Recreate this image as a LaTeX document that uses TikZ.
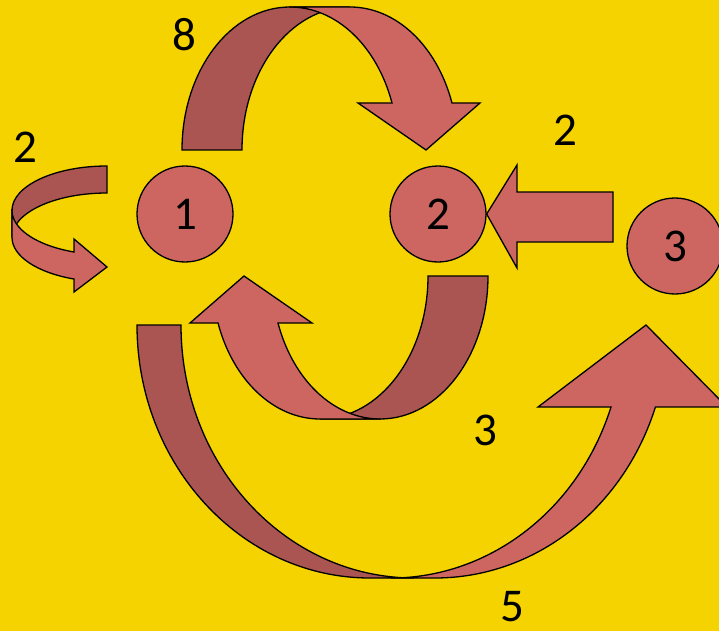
\documentclass[tikz,border=0pt]{standalone}
\usepackage{fontspec}
\setmainfont{Carlito}
\usepackage{tikz}
\definecolor{Gold}{HTML}{F4D300}
\definecolor{Rose}{HTML}{CD6661}
\definecolor{DarkRose}{HTML}{AB5552}

\begin{document}
\begin{tikzpicture}[
    x=1pt,y=-1pt,
    state/.style={circle,draw,line width=1.3pt,fill=Rose,minimum size=96pt,inner sep=0pt,font=\fontsize{47}{56}\selectfont},
    weight/.style={inner sep=0pt,font=\fontsize{47}{56}\selectfont},
    lightface/.style={draw,line width=1.3pt,fill=Rose},
    darkface/.style={draw,line width=1.3pt,fill=DarkRose},
    archarrow/.pic={
      \path[darkface] (182,150) arc[start angle=180,end angle=270,x radius=108,y radius=143]
        -- (350,7) arc[start angle=270,end angle=180,x radius=108,y radius=143] -- cycle;
      \path[lightface] (290,7) -- (350,7) arc[start angle=270,end angle=340.8,x radius=108,y radius=143]
        -- (480,103) -- (426,150) -- (358,103) -- (392,103)
        arc[start angle=340.8,end angle=270,x radius=108,y radius=143] -- cycle;
    }
  ]
    \useasboundingbox (0,0) rectangle (719,631);
    \fill[Gold] (0,0) rectangle (719,631);

    \node[state] (n1) at (185,214) {1};
    \node[state] (n2) at (438,214) {2};
    \node[state] (n3) at (675,246) {3};

    % 1 -> 2 over the top, 2 -> 1 underneath
    \pic at (0,0) {archarrow};
    \pic[rotate=180] at (670,426) {archarrow};

    % 1 -> 1
    \path[darkface] (107,166) arc[start angle=270,end angle=180,x radius=95,y radius=44.4]
      -- (12,237.4) arc[start angle=180,end angle=270,x radius=95,y radius=44.4] -- cycle;
    \path[lightface] (12,210.4) -- (12,237.4) arc[start angle=180,end angle=110.3,x radius=95,y radius=44.4]
      -- (74,292) -- (107,267) -- (74,239) -- (74,252)
      arc[start angle=110.3,end angle=180,x radius=95,y radius=44.4] -- cycle;

    % 1 -> 3
    \path[darkface] (137,325) arc[start angle=180,end angle=90,x radius=233,y radius=253]
      -- (414,578) arc[start angle=90,end angle=180,x radius=233,y radius=253] -- cycle;
    \path[lightface] (391,578) -- (435,578) arc[start angle=90,end angle=18.9,x radius=233,y radius=253]
      -- (727,407) -- (646,325) -- (538,407) -- (611,407)
      arc[start angle=18.9,end angle=90,x radius=233,y radius=253] -- cycle;

    % 3 -> 2
    \path[lightface] (613,192) -- (517,192) -- (517,165) -- (n2.east) -- (517,268) -- (517,242) -- (613,242) -- cycle;

    \node[weight] (w11) at (25,147) {2};
    \node[weight] (w12) at (184,35) {8};
    \node[weight] (w32) at (565,130) {2};
    \node[weight] (w21) at (485,430) {3};
    \node[weight] (w13) at (512,607) {5};
  \end{tikzpicture}
\end{document}
